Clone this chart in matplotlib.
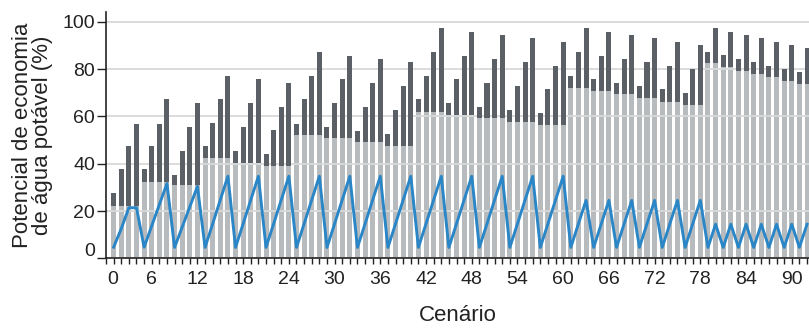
import numpy as np
import matplotlib
matplotlib.use("Agg")
import matplotlib.pyplot as plt
from matplotlib.transforms import ScaledTranslation

# scenarios 1..92 (axis labelled from 0)
scenarios = np.arange(1, 93)

# light part of each bar (%)
base = [
    22.3, 22.3, 22.3, 22.3, 32.4, 32.4, 32.4, 32.4, 31.0, 31.0, 31.0, 31.0,
    42.6, 42.6, 42.6, 42.6, 40.5, 40.5, 40.5, 40.5, 39.2, 39.2, 39.2, 39.2,
    52.1, 52.1, 52.1, 52.1, 50.7, 50.7, 50.7, 50.7, 49.0, 49.0, 49.0, 49.0,
    47.6, 47.6, 47.6, 47.6, 62.0, 62.0, 62.0, 62.0, 60.6, 60.6, 60.6, 60.6,
    59.2, 59.2, 59.2, 59.2, 57.8, 57.8, 57.8, 57.8, 56.4, 56.4, 56.4, 56.4,
    72.2, 72.2, 72.2, 70.8, 70.8, 70.8, 69.3, 69.3, 69.3, 67.9, 67.9, 67.9,
    66.2, 66.2, 66.2, 64.8, 64.8, 64.8,
    82.4, 82.4, 80.8, 80.8, 79.3, 79.3, 77.9, 77.9, 76.5, 76.5, 75.1, 75.1,
    73.7, 73.7,
]

# total height of each bar (%)
total = [
    27.5, 37.6, 47.6, 56.8, 37.6, 47.6, 56.8, 67.2, 35.2, 45.4, 55.7, 65.5,
    47.6, 57.1, 67.2, 77.1, 45.4, 55.7, 65.5, 75.7, 44.0, 54.2, 64.1, 74.3,
    56.8, 67.2, 77.1, 87.1, 55.4, 65.5, 75.7, 85.7, 54.0, 64.1, 74.3, 84.3,
    52.6, 62.7, 72.9, 82.9, 67.2, 77.1, 87.1, 97.3, 65.5, 75.7, 85.7, 95.8,
    64.1, 74.3, 84.3, 94.4, 62.7, 72.9, 82.9, 93.0, 61.3, 71.5, 81.5, 91.6,
    77.1, 87.1, 97.3, 75.7, 85.7, 95.8, 74.3, 84.3, 94.4, 72.9, 82.9, 93.0,
    71.5, 81.5, 91.6, 70.0, 80.1, 90.2,
    87.3, 97.2, 86.0, 95.8, 84.5, 94.4, 82.9, 93.0, 81.5, 91.6, 80.1, 90.2,
    78.7, 88.8,
]

# blue line (%)
line = [
    4.7, 12.5, 21.4, 21.4, 4.7, 13.7, 22.7, 31.6, 4.6, 13.2, 21.8, 30.4,
    4.6, 14.6, 24.7, 34.7, 4.6, 14.6, 24.7, 34.7, 4.6, 14.6, 24.7, 34.7,
    4.6, 14.6, 24.7, 34.7, 4.6, 14.6, 24.7, 34.7, 4.6, 14.6, 24.7, 34.7,
    4.6, 14.6, 24.7, 34.7, 4.6, 14.6, 24.7, 34.7, 4.6, 14.6, 24.7, 34.7,
    4.6, 14.6, 24.7, 34.7, 4.6, 14.6, 24.7, 34.7, 4.6, 14.6, 24.7, 34.7,
    4.6, 14.6, 24.5, 4.6, 14.6, 24.5, 4.6, 14.6, 24.5, 4.6, 14.6, 24.5,
    4.6, 14.6, 24.5, 4.6, 14.6, 24.5,
    4.6, 14.4, 4.6, 14.4, 4.6, 14.4, 4.6, 14.4, 4.6, 14.4, 4.6, 14.4,
    4.6, 14.4,
]

xtick_labels = list(range(0, 91, 6))
ytick_labels = [0, 20, 40, 60, 80, 100]

plt.rcParams["font.family"] = ["Liberation Sans", "DejaVu Sans"]

W, H = 809, 328
fig = plt.figure(figsize=(W / 100, H / 100), dpi=100)
ax = fig.add_axes([106 / W, (H - 258.3) / H, (W - 106) / W, (258.3 - 11.7) / H])

base = np.array(base)
total = np.array(total)

ax.bar(scenarios, base, width=0.66, color="#b8bbbd", zorder=1)
ax.bar(scenarios, total - base, bottom=base, width=0.66, color="#5b5f66", zorder=3)
ax.plot(scenarios, line, color="#2a86c6", lw=2.1, zorder=4)

ax.set_xlim(0, 92.26)
ax.set_ylim(0, 104.3)

ax.set_yticks(ytick_labels)
ax.set_xticks(xtick_labels)
ax.set_xticks(np.arange(0, 93), minor=True)
ax.grid(axis="y", color="#d9d9d9", lw=1.3)
ax.set_axisbelow(False)
for gl in ax.yaxis.get_gridlines():
    gl.set_zorder(2)

for s in ["top", "right"]:
    ax.spines[s].set_visible(False)
for s in ["left", "bottom"]:
    ax.spines[s].set_color("#222222")
    ax.spines[s].set_linewidth(1.2)
    ax.spines[s].set_zorder(5)

ax.tick_params(axis="y", length=6.5, width=1.0, pad=1.5, labelsize=14, colors="#222222")
ax.tick_params(axis="x", which="both", length=4.3, width=1.0, pad=5, labelsize=14,
               colors="#222222")

# nudge the two "0" labels inward like the original
for lab in ax.get_xticklabels():
    if lab.get_text() == "0":
        lab.set_transform(lab.get_transform() + ScaledTranslation(0.07, 0, fig.dpi_scale_trans))
for lab in ax.get_yticklabels():
    if lab.get_text() == "0":
        lab.set_transform(lab.get_transform() + ScaledTranslation(0, 0.09, fig.dpi_scale_trans))

ax.set_ylabel("Potencial de economia\nde água potável (%)", fontsize=16,
              linespacing=0.95, color="#222222")
ax.yaxis.set_label_coords(-53 / (W - 106), 0.5)
ax.set_xlabel("Cenário", fontsize=16, color="#222222")
ax.xaxis.set_label_coords(0.5, -(305 - 258.3) / (258.3 - 11.7))

fig.savefig("out.png", dpi=100)
